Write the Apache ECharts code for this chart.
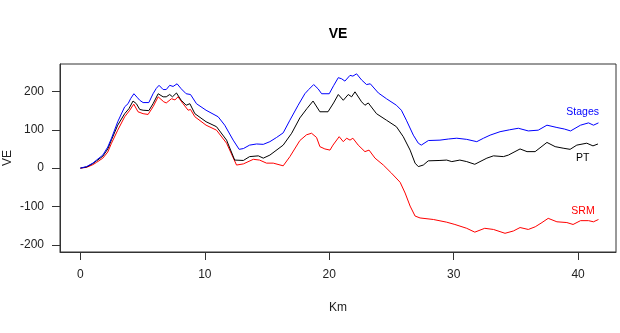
<!DOCTYPE html>
<html>
<head>
<meta charset="utf-8">
<script src="https://cdn.jsdelivr.net/npm/echarts@6/dist/echarts.min.js"></script>
<style>
  html, body { margin: 0; padding: 0; background: #ffffff; }
  #chart { width: 620px; height: 333px; }
</style>
</head>
<body>
<div id="chart"></div>
<script>
// Cumulative VE along the route (km) for three methods.
const stagesKm = [0, 0.5, 1.0, 1.3, 1.8, 2.2, 2.5, 3.0, 3.56, 3.83, 4.05, 4.3, 4.55, 4.77, 5.04, 5.5, 5.84, 6.1, 6.32, 6.65, 6.9, 7.18, 7.45, 7.77, 8.1, 8.5, 8.85, 9.33, 10.1, 11.07, 11.6, 12.28, 12.76, 13.1, 13.6, 14.16, 14.7, 15.23, 15.77, 16.3, 16.84, 17.5, 18.04, 18.35, 18.75, 19.1, 19.39, 20.0, 20.35, 20.73, 21.0, 21.26, 21.67, 21.9, 22.2, 22.6, 23.0, 23.3, 23.95, 24.6, 25.4, 25.8, 26.2, 26.76, 27.16, 27.4, 27.97, 28.9, 29.6, 30.25, 31.05, 31.86, 32.4, 32.93, 33.73, 34.5, 35.2, 36.0, 36.8, 37.5, 38.3, 38.9, 39.4, 40.2, 40.84, 41.24, 41.64];
const stagesVE = [0, 4, 13, 21, 34, 55, 78, 121, 160, 168, 182, 194, 185, 177, 171, 171, 194, 208, 216, 205, 205, 216, 213, 220, 207, 194, 192, 168, 151, 134, 112, 73, 49, 51, 60, 63, 62, 69, 80, 92, 125, 164, 194, 205, 218, 207, 194, 194, 215, 236, 233, 227, 242, 240, 246, 230, 218, 220, 196, 181, 164, 151, 125, 86, 65, 60, 72, 73, 76, 78, 75, 69, 78, 86, 95, 100, 104, 97, 99, 112, 106, 102, 97, 112, 118, 112, 118];

const ptKm = [0, 0.5, 1.0, 1.3, 1.8, 2.2, 2.5, 3.0, 3.56, 3.9, 4.23, 4.5, 4.77, 5.04, 5.5, 5.84, 6.25, 6.65, 6.9, 7.18, 7.4, 7.72, 8.1, 8.5, 8.8, 9.2, 10.1, 10.94, 11.75, 12.4, 12.55, 13.1, 13.6, 14.3, 14.7, 15.23, 16.3, 16.98, 17.64, 18.2, 18.7, 19.25, 19.9, 20.35, 20.73, 21.13, 21.53, 21.8, 22.07, 22.6, 22.87, 23.14, 23.8, 24.6, 25.4, 25.95, 26.5, 26.9, 27.16, 27.56, 27.96, 28.9, 29.44, 29.85, 30.5, 31.05, 31.7, 32.67, 33.2, 34.0, 34.4, 35.34, 35.9, 36.55, 37.5, 38.16, 38.8, 39.36, 39.9, 40.7, 41.2, 41.6];
const ptVE = [0, 3, 12, 19, 31, 50, 74, 112, 142, 155, 175, 168, 153, 151, 150, 168, 194, 186, 186, 192, 186, 196, 177, 164, 168, 142, 121, 108, 73, 21, 17, 20, 30, 32, 26, 34, 60, 91, 131, 155, 175, 147, 147, 170, 192, 177, 192, 186, 199, 173, 164, 170, 142, 125, 108, 82, 47, 13, 4, 8, 19, 20, 21, 17, 21, 17, 10, 26, 32, 30, 34, 50, 43, 43, 67, 56, 52, 49, 60, 65, 58, 63];

const srmKm = [0, 0.5, 1.0, 1.3, 1.8, 2.2, 2.5, 3.0, 3.56, 3.97, 4.29, 4.63, 5.04, 5.44, 5.84, 6.25, 6.7, 6.9, 7.32, 7.6, 7.85, 8.25, 8.66, 8.85, 9.2, 10.1, 10.94, 11.75, 12.55, 13.1, 13.9, 14.4, 14.96, 15.5, 16.3, 16.84, 17.64, 18.18, 18.58, 18.98, 19.25, 19.65, 20.06, 20.3, 20.8, 21.13, 21.4, 21.67, 21.9, 22.33, 22.87, 23.2, 23.68, 24.35, 25.0, 25.7, 26.1, 26.5, 26.9, 27.3, 28.37, 29.44, 30.1, 31.05, 31.7, 32.5, 33.2, 34.13, 34.8, 35.34, 36.0, 36.56, 37.1, 37.6, 38.3, 39.1, 39.6, 40.2, 40.84, 41.24, 41.64];
const srmVE = [0, 2, 9, 15, 26, 42, 65, 99, 134, 151, 167, 147, 142, 140, 160, 186, 173, 170, 181, 178, 186, 168, 151, 153, 134, 112, 99, 65, 8, 11, 23, 21, 13, 13, 6, 30, 72, 87, 91, 80, 56, 50, 47, 60, 82, 69, 78, 73, 78, 60, 43, 47, 26, 8, -13, -37, -65, -99, -125, -130, -134, -141, -147, -157, -167, -157, -160, -170, -164, -155, -160, -153, -142, -131, -140, -142, -147, -137, -137, -140, -134];

const xTicks = [0, 10, 20, 30, 40];
const yTicks = [-200, -100, 0, 100, 200];

// Text tags placed beside each curve's end.
const curveNames = ['SRM', 'PT', 'Stages'];
const curveColors = ['#ff0000', '#000000', '#0000ff'];
const tagKm = [40.4, 40.37, 40.37];
const tagVE = [-113, 26, 145];

const pairs = (xs, ys) => xs.map((x, i) => [x, ys[i]]);
const curveData = [pairs(srmKm, srmVE), pairs(ptKm, ptVE), pairs(stagesKm, stagesVE)];

const FONT = '"Liberation Sans", Arial, sans-serif';
const INK = '#222222';

const chart = echarts.init(document.getElementById('chart'), null, { renderer: 'canvas' });

const series = curveNames.map((name, i) => ({
  name: name,
  type: 'line',
  data: curveData[i],
  showSymbol: false,
  symbol: 'none',
  silent: true,
  lineStyle: { color: curveColors[i], width: 1 },
  itemStyle: { color: curveColors[i] },
  markPoint: {
    symbol: 'circle',
    symbolSize: 0,
    silent: true,
    data: [{ coord: [tagKm[i], tagVE[i]], value: name }],
    label: {
      show: true,
      position: 'inside',
      formatter: name,
      color: curveColors[i],
      fontFamily: FONT,
      fontSize: 10.5
    }
  }
}));

chart.setOption({
  animation: false,
  backgroundColor: '#ffffff',
  title: {
    text: 'VE',
    left: 338,
    top: 27,
    padding: 0,
    textAlign: 'center',
    textStyle: { fontFamily: FONT, fontSize: 14, fontWeight: 'bold', color: '#000' }
  },
  grid: {
    left: 60, right: 4, top: 64, bottom: 81,
    outerBoundsMode: 'none',
    containLabel: false,
    show: true, borderColor: '#333', borderWidth: 1, backgroundColor: 'transparent'
  },
  xAxis: {
    type: 'value',
    min: -1.64, max: 43.05,
    name: 'Km',
    nameLocation: 'middle',
    nameGap: 56,
    nameMoveOverlap: false,
    nameTextStyle: { fontFamily: FONT, fontSize: 12, color: INK, verticalAlign: 'middle' },
    axisLine: { show: true, onZero: false, lineStyle: { color: '#333', width: 1 } },
    axisTick: { show: true, length: 8, customValues: xTicks, lineStyle: { color: '#333' } },
    axisLabel: { show: true, customValues: xTicks, margin: 17, fontFamily: FONT, fontSize: 12, color: INK },
    splitLine: { show: false }
  },
  yAxis: {
    type: 'value',
    min: -218.8, max: 271.6,
    name: 'VE',
    nameLocation: 'middle',
    nameGap: 52,
    nameRotate: 90,
    nameMoveOverlap: false,
    nameTextStyle: { fontFamily: FONT, fontSize: 12, color: INK, verticalAlign: 'middle' },
    axisLine: { show: true, onZero: false, lineStyle: { color: '#333', width: 1 } },
    axisTick: { show: true, length: 8, customValues: yTicks, lineStyle: { color: '#333' } },
    axisLabel: { show: true, customValues: yTicks, margin: 16, fontFamily: FONT, fontSize: 12, color: INK },
    splitLine: { show: false }
  },
  series: series
});
</script>
</body>
</html>
